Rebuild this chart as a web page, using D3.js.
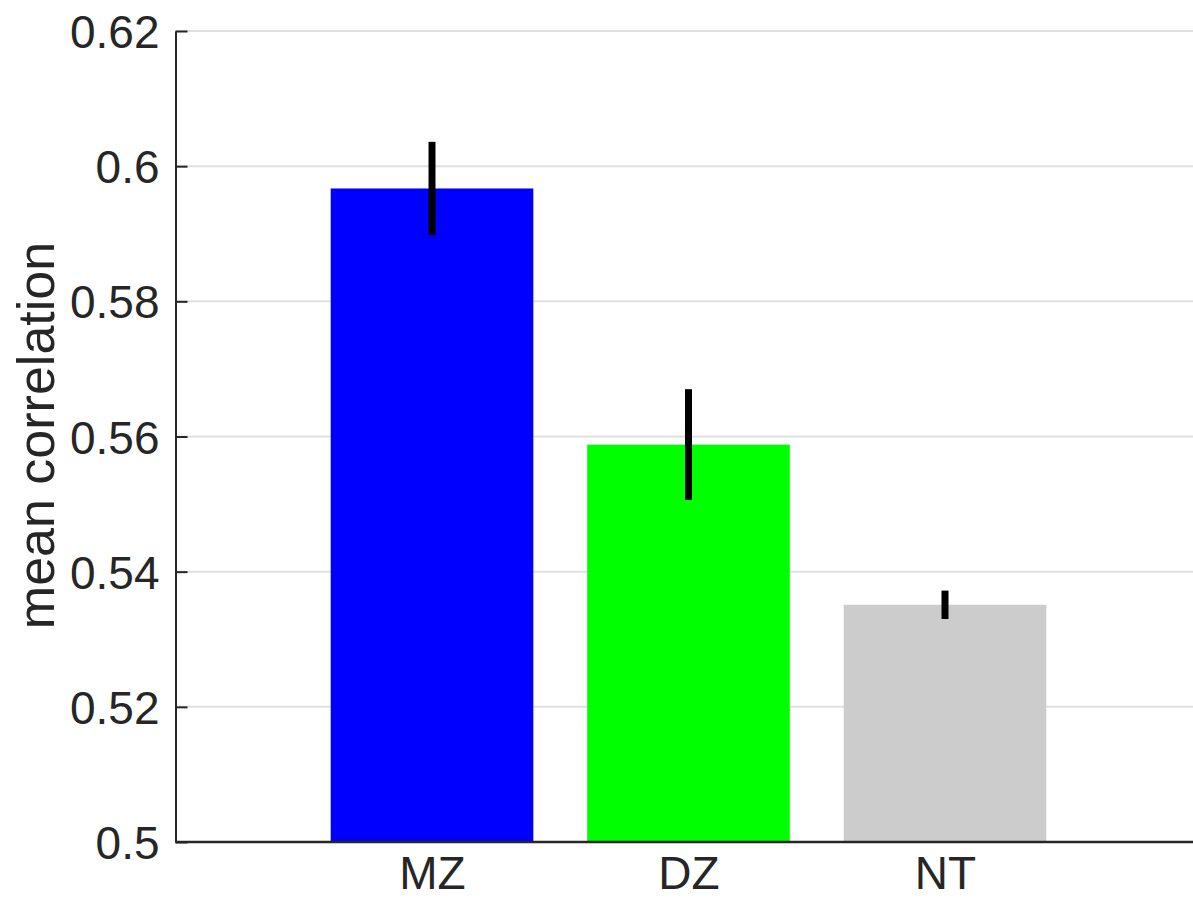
<!DOCTYPE html>
<html>
<head>
<meta charset="utf-8">
<script src="https://cdn.jsdelivr.net/npm/d3@7"></script>
<style>
  html, body { margin: 0; padding: 0; background: #fff; }
  svg { display: block; }
</style>
</head>
<body>
<svg id="chart" width="1193" height="899"></svg>
<script>
const categories = ["MZ", "DZ", "NT"];
const meanValues = [0.5967, 0.5588, 0.5351];
const errorValues = [0.0069, 0.0082, 0.0021];
const barColors = ["#0000ff", "#00ff00", "#cccccc"];
const yTicks = [0.5, 0.52, 0.54, 0.56, 0.58, 0.6, 0.62];
const yTickLabels = ["0.5", "0.52", "0.54", "0.56", "0.58", "0.6", "0.62"];
const yLabel = "mean correlation";

const svg = d3.select("#chart");
const textColor = "#262626";
const fontFamily = "'Liberation Sans', Arial, Helvetica, sans-serif";

const x = d3.scaleLinear().domain([0, 4]).range([175.5, 1201.5]);
const y = d3.scaleLinear().domain([0.5, 0.62]).range([842, 31]);
const barHalf = 0.395;

// gridlines
svg.append("g").selectAll("line")
  .data(yTicks.slice(1))
  .join("line")
  .attr("x1", x(0)).attr("x2", 1193)
  .attr("y1", d => y(d)).attr("y2", d => y(d))
  .attr("stroke", "#e0e0e0").attr("stroke-width", 2);

// bars
svg.append("g").selectAll("rect")
  .data(meanValues)
  .join("rect")
  .attr("x", (d, i) => x(i + 1 - barHalf))
  .attr("width", (d, i) => x(i + 1 + barHalf) - x(i + 1 - barHalf))
  .attr("y", d => y(d))
  .attr("height", d => y(0.5) - y(d))
  .attr("fill", (d, i) => barColors[i]);

// error bars
svg.append("g").selectAll("line")
  .data(meanValues)
  .join("line")
  .attr("x1", (d, i) => x(i + 1)).attr("x2", (d, i) => x(i + 1))
  .attr("y1", (d, i) => y(d + errorValues[i]))
  .attr("y2", (d, i) => y(d - errorValues[i]))
  .attr("stroke", "#000").attr("stroke-width", 7);

// y axis
const yAxis = d3.axisRight(y)
  .tickValues(yTicks)
  .tickFormat((d, i) => yTickLabels[i])
  .tickSize(12)
  .tickSizeOuter(0);
const gy = svg.append("g").attr("transform", `translate(${x(0)},0)`).call(yAxis);
gy.select(".domain").attr("stroke", textColor).attr("stroke-width", 2);
gy.selectAll(".tick line").attr("stroke", textColor).attr("stroke-width", 2);
gy.selectAll(".tick text")
  .attr("x", -16)
  .attr("dy", "0.36em")
  .attr("text-anchor", "end")
  .attr("fill", textColor)
  .style("font-family", fontFamily)
  .style("font-size", "46px");

// x axis
const xAxis = d3.axisBottom(x)
  .tickValues([1, 2, 3])
  .tickFormat((d, i) => categories[i])
  .tickSize(0)
  .tickSizeOuter(0);
const gx = svg.append("g").attr("transform", `translate(0,${y(0.5)})`).call(xAxis);
gx.select(".domain").attr("d", `M${x(0)},0H1193`).attr("stroke", textColor).attr("stroke-width", 2.5);
gx.selectAll(".tick text")
  .attr("y", 47)
  .attr("dy", 0)
  .attr("fill", textColor)
  .style("font-family", fontFamily)
  .style("font-size", "46px");

// y label
svg.append("text")
  .attr("transform", `translate(54,${(y(0.5) + y(0.62)) / 2 - 1}) rotate(-90)`)
  .attr("text-anchor", "middle")
  .attr("fill", textColor)
  .style("font-family", fontFamily)
  .style("font-size", "52px")
  .text(yLabel);
</script>
</body>
</html>
